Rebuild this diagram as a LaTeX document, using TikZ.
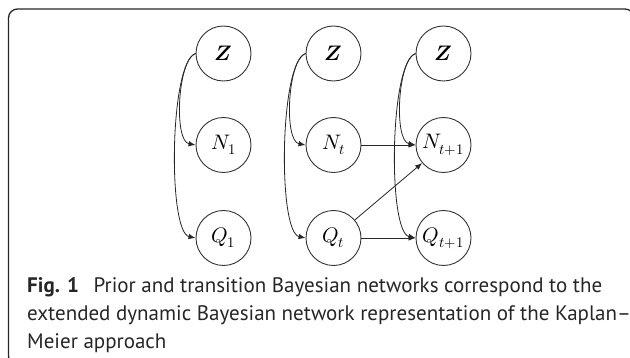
\documentclass[tikz,border=0pt]{standalone}
\usepackage{fontspec}
\usepackage{unicode-math}
\setmathfont{Latin Modern Math}
\setsansfont{PT Sans}
\usetikzlibrary{arrows.meta}
\begin{document}
\begin{tikzpicture}[x=1pt,y=-1pt,
  var/.style={circle,draw=black!80,line width=0.9pt,minimum size=55pt,inner sep=0pt,
    font=\fontsize{21}{25}\selectfont},
  edge/.style={draw=black!85,line width=0.8pt,-{Latex[length=7pt,width=5.5pt]}},
  captext/.style={anchor=base west,inner sep=0pt,font=\sffamily\fontsize{21}{25}\selectfont,text=black!85}]
\useasboundingbox (0,0) rectangle (630,358);
% frame
\draw[black!85,line width=1.3pt,rounded corners=9pt] (634,40) -- (634,9) -- (8.5,9) -- (8.5,365) -- (40,365);
% prior network
\node[var] (z1) at (223.5,53.5) {$\symbfit{Z}$};
\node[var] (n1) at (223.5,145) {$N_1$};
\node[var] (q1) at (223.5,238) {$Q_1$};
% transition network, slice t
\node[var] (z2) at (333.5,53.5) {$\symbfit{Z}$};
\node[var] (n2) at (333.5,145) {$N_t$};
\node[var] (q2) at (333.5,238) {$Q_t$};
% transition network, slice t+1
\node[var] (z3) at (443.5,53.5) {$\symbfit{Z}$};
\node[var] (n3) at (443.5,145) {$N_{t+1}$};
\node[var] (q3) at (443.5,238) {$Q_{t+1}$};
% Z arcs
\foreach \z/\n/\q in {z1/n1/q1, z2/n2/q2, z3/n3/q3}{
  \draw[edge] (\z.west) .. controls +(-18,6) and +(-22,-4) .. (\n.west);
  \draw[edge] (\z.west) .. controls +(-26,8) and +(-28,-6) .. (\q.west);
}
% temporal arcs
\draw[edge] (n2) -- (n3);
\draw[edge] (q2) -- (q3);
\draw[edge] (q2) -- (n3);
% caption
\node[captext] (l1) at (27,293) {\textbf{Fig. 1}\hspace{0.7em}Prior and transition Bayesian networks correspond to the};
\node[captext] (l2) at (27,321) {extended dynamic Bayesian network representation of the Kaplan–};
\node[captext] (l3) at (27,349) {Meier approach};
\end{tikzpicture}
\end{document}
